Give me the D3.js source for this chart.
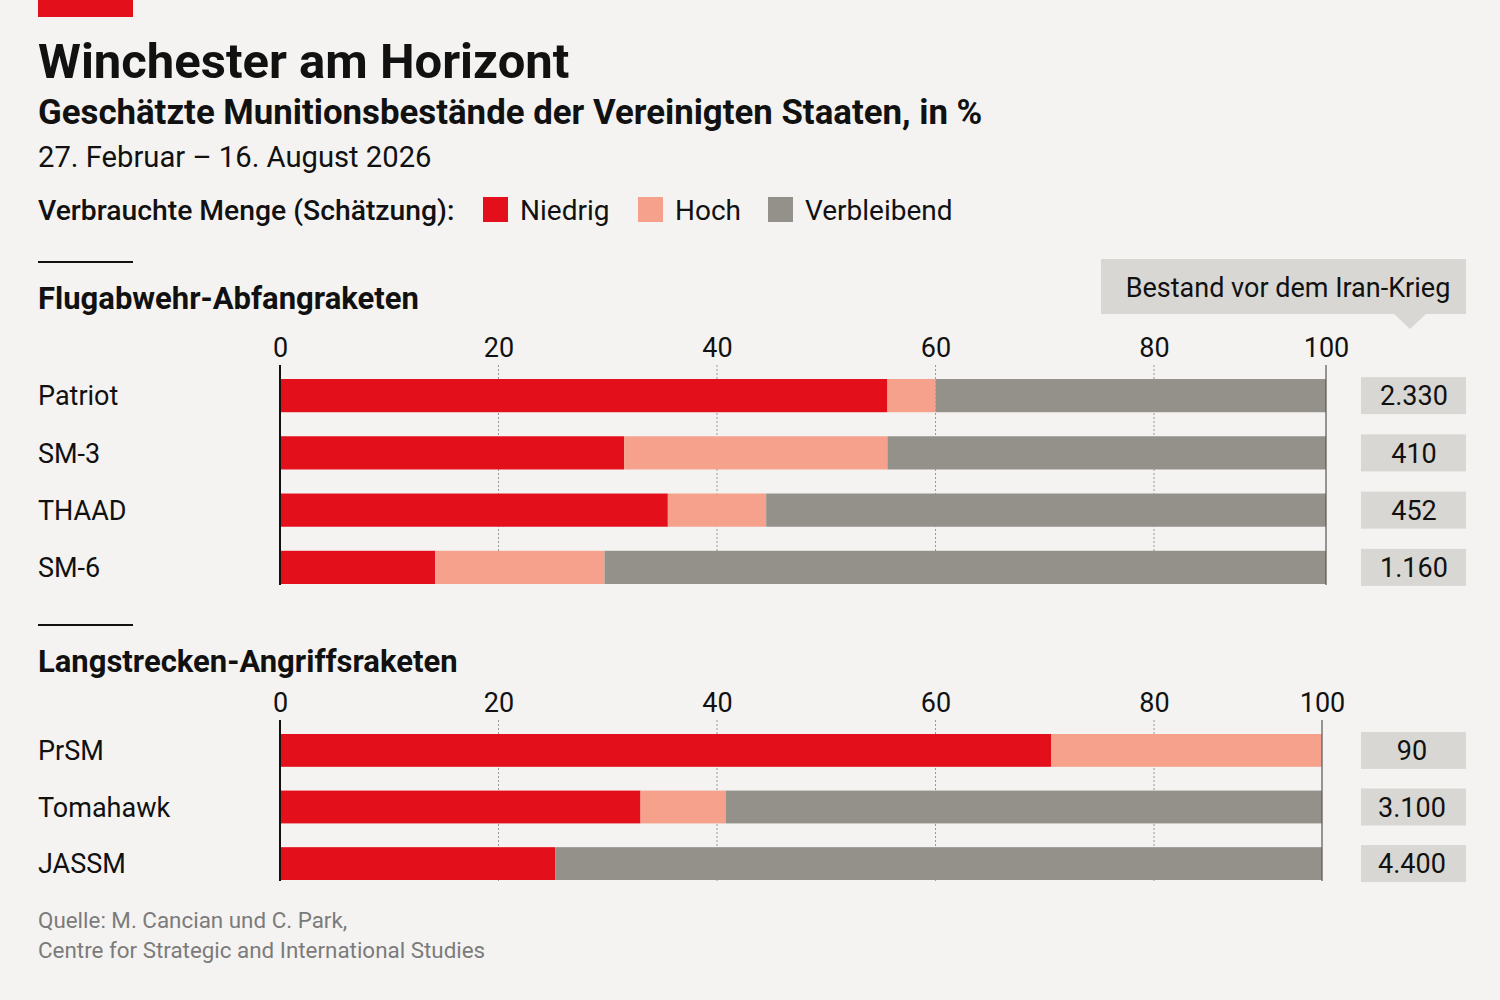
<!DOCTYPE html>
<html>
<head>
<meta charset="utf-8">
<script src="https://cdn.jsdelivr.net/npm/d3@7"></script>
<style>
  body { margin: 0; background: #f4f3f1; }
  svg { display: block; font-family: Roboto, "Noto Sans", sans-serif; }
</style>
</head>
<body>
<div id="holder"></div>
<script>
// data (percent of pre-war stock)
var airNames = ["Patriot", "SM-3", "THAAD", "SM-6"];
var airLow = [55.6, 31.5, 35.5, 14.2];
var airHigh = [60, 55.6, 44.5, 29.7];
var airStock = ["2.330", "410", "452", "1.160"];

var strikeNames = ["PrSM", "Tomahawk", "JASSM"];
var strikeLow = [70.6, 33, 25.2];
var strikeHigh = [100, 40.8, 25.2];
var strikeStock = ["90", "3.100", "4.400"];

var tickValues = [0, 20, 40, 60, 80, 100];
var legendNames = ["Niedrig", "Hoch", "Verbleibend"];
var keys = ["low", "high", "rest"];

var colors = {low: "#e3101c", high: "#f5a18b", rest: "#94918b"};

var width = 1500, height = 1000;

var svg = d3.select("#holder")
  .append("svg")
  .attr("width", width)
  .attr("height", height);

svg.append("rect").attr("width", width).attr("height", height).attr("fill", "#f4f3f1");

// red tab at top
svg.append("rect").attr("x", 38).attr("y", 0).attr("width", 95).attr("height", 17).attr("fill", colors.low);

// headings
svg.append("text").attr("x", 38).attr("y", 78)
  .attr("font-size", 49).attr("font-weight", 700).attr("fill", "#111")
  .text("Winchester am Horizont");
svg.append("text").attr("x", 38).attr("y", 124)
  .attr("font-size", 34.8).attr("font-weight", 700).attr("fill", "#111")
  .text("Geschätzte Munitionsbestände der Vereinigten Staaten, in %");
svg.append("text").attr("x", 38).attr("y", 167)
  .attr("font-size", 29.2).attr("fill", "#111")
  .text("27. Februar – 16. August 2026");

// legend
svg.append("text").attr("x", 38).attr("y", 220)
  .attr("font-size", 28.3).attr("font-weight", 500).attr("fill", "#111")
  .text("Verbrauchte Menge (Schätzung):");

var legendX = [483, 638, 768];
var legend = svg.append("g").selectAll("g")
  .data(keys)
  .enter()
  .append("g")
  .attr("transform", (d, i) => "translate(" + legendX[i] + ",197)");
legend.append("rect").attr("width", 25).attr("height", 25).attr("fill", d => colors[d]);
legend.append("text").attr("x", 37).attr("y", 23)
  .attr("font-size", 28).attr("fill", "#111")
  .text((d, i) => legendNames[i]);

// callout box
var callout = svg.append("g");
callout.append("rect").attr("x", 1101).attr("y", 259).attr("width", 365).attr("height", 55).attr("fill", "#d8d7d4");
callout.append("path").attr("d", "M1394,314 L1426,314 L1410,329 Z").attr("fill", "#d8d7d4");
callout.append("text").attr("x", 1288).attr("y", 297).attr("text-anchor", "middle")
  .attr("font-size", 27).attr("fill", "#111")
  .text("Bestand vor dem Iran-Krieg");

function drawPanel(opt) {
  var g = svg.append("g");

  g.append("line").attr("x1", 38).attr("x2", 133).attr("y1", opt.ruleY).attr("y2", opt.ruleY)
    .attr("stroke", "#111").attr("stroke-width", 2);
  g.append("text").attr("x", 38).attr("y", opt.ruleY + 47)
    .attr("font-size", 31).attr("font-weight", 700).attr("fill", "#111")
    .text(opt.title);

  // the picture's axis is not evenly spaced between 80 and 100
  var x = d3.scaleLinear().domain([0, 80, 100]).range([280, 1154, opt.x100]);
  var y = d3.scaleBand().domain(opt.names).range(opt.yRange).paddingInner(0.42).paddingOuter(0);

  var rows = opt.names.map((n, i) => ({
    name: n,
    low: opt.low[i],
    high: opt.high[i] - opt.low[i],
    rest: 100 - opt.high[i],
    stock: opt.stock[i]
  }));
  var series = d3.stack().keys(keys)(rows);

  var top = opt.axisY, bottom = opt.yRange[1] + 1;

  // dotted grid
  g.append("g").selectAll("line")
    .data(tickValues.slice(1, -1))
    .enter()
    .append("line")
    .attr("x1", d => x(d)).attr("x2", d => x(d))
    .attr("y1", top).attr("y2", bottom)
    .attr("stroke", "#9a9a9a").attr("stroke-width", 1).attr("stroke-dasharray", "2,2");

  // axis labels
  var axis = g.append("g")
    .attr("transform", "translate(0," + top + ")")
    .call(d3.axisTop(x).tickValues(tickValues).tickSize(0).tickPadding(8));
  axis.select(".domain").remove();
  axis.selectAll("text").attr("font-size", 27).attr("font-family", "Roboto, sans-serif").attr("fill", "#111");

  // bars
  g.append("g").selectAll("g")
    .data(series)
    .enter()
    .append("g")
    .attr("fill", d => colors[d.key])
    .selectAll("rect")
    .data(d => d)
    .enter()
    .append("rect")
    .attr("x", d => x(d[0]))
    .attr("width", d => x(d[1]) - x(d[0]))
    .attr("y", d => y(d.data.name))
    .attr("height", y.bandwidth());

  // zero and hundred lines
  g.append("line").attr("x1", x(0)).attr("x2", x(0)).attr("y1", top).attr("y2", bottom)
    .attr("stroke", "#111").attr("stroke-width", 2);
  g.append("line").attr("x1", x(100)).attr("x2", x(100)).attr("y1", top).attr("y2", bottom)
    .attr("stroke", "#555").attr("stroke-width", 1.2);

  // row labels
  g.append("g").selectAll("text")
    .data(rows)
    .enter()
    .append("text")
    .attr("x", 38)
    .attr("y", d => y(d.name) + y.bandwidth() / 2)
    .attr("dy", "0.36em")
    .attr("font-size", 27).attr("fill", "#111")
    .text(d => d.name);

  // stock boxes
  var box = g.append("g").selectAll("g")
    .data(rows)
    .enter()
    .append("g")
    .attr("transform", d => "translate(1361," + (y(d.name) + y.bandwidth() / 2 - 18.5) + ")");
  box.append("rect").attr("width", 105).attr("height", 37).attr("fill", "#d8d7d4");
  box.append("text").attr("x", opt.boxTextX).attr("y", 18.5).attr("dy", "0.36em")
    .attr("text-anchor", "middle").attr("font-size", 27).attr("fill", "#111")
    .text(d => d.stock);
}

drawPanel({
  title: "Flugabwehr-Abfangraketen",
  ruleY: 262, axisY: 365, x100: 1326,
  names: airNames, low: airLow, high: airHigh, stock: airStock,
  yRange: [379, 584], boxTextX: 53
});

drawPanel({
  title: "Langstrecken-Angriffsraketen",
  ruleY: 625, axisY: 720, x100: 1322,
  names: strikeNames, low: strikeLow, high: strikeHigh, stock: strikeStock,
  yRange: [734, 880], boxTextX: 51
});

// source
var src = svg.append("g").attr("font-size", 22.4).attr("fill", "#7b7b7b");
src.append("text").attr("x", 38).attr("y", 928).text("Quelle: M. Cancian und C. Park,");
src.append("text").attr("x", 38).attr("y", 958).text("Centre for Strategic and International Studies");
</script>
</body>
</html>
